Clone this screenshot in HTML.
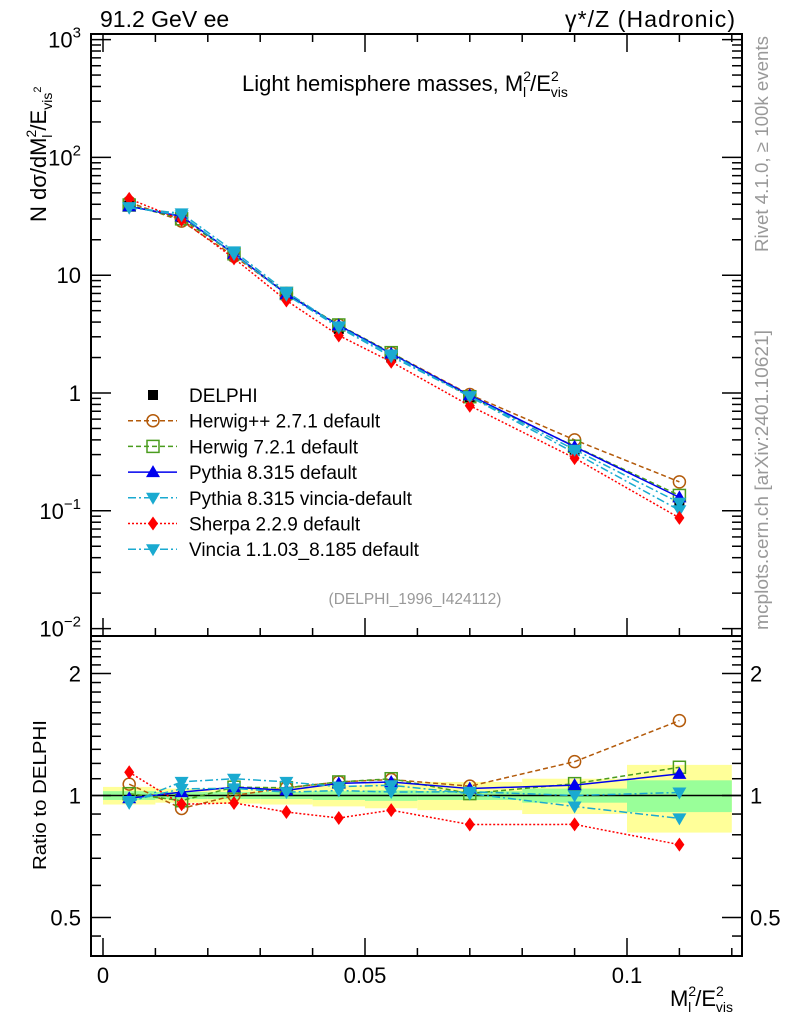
<!DOCTYPE html>
<html><head><meta charset="utf-8"><style>
html,body{margin:0;padding:0;background:#fff;}
svg{display:block;font-family:"Liberation Sans",Arial,sans-serif;}
</style></head><body>
<svg id="chart" width="786" height="1024" xmlns="http://www.w3.org/2000/svg">
<g id="bands"></g>
<g id="grid"></g>
<g id="series"></g>
<g id="legend"></g>
<text x="100" y="27" font-size="23">91.2 GeV ee</text>
<text x="565" y="27" font-size="23" textLength="170" lengthAdjust="spacing">γ*/Z (Hadronic)</text>
<text x="242" y="91" font-size="22">Light hemisphere masses, M<tspan font-size="14" dy="-10">2</tspan><tspan font-size="14" dx="-8" dy="16">l</tspan><tspan dx="4" dy="-6">/E</tspan><tspan font-size="14" dy="-10">2</tspan><tspan font-size="14" dx="-8" dy="16">vis</tspan></text>
<text x="415" y="604" font-size="15.5" fill="#999" text-anchor="middle">(DELPHI_1996_I424112)</text>
<text transform="translate(768,252) rotate(-90)" font-size="18.5" fill="#999" textLength="216" lengthAdjust="spacingAndGlyphs">Rivet 4.1.0, ≥ 100k events</text>
<text transform="translate(768,630) rotate(-90)" font-size="18.5" fill="#999" textLength="300" lengthAdjust="spacingAndGlyphs">mcplots.cern.ch [arXiv:2401.10621]</text>
<text transform="translate(46,222) rotate(-90)" font-size="22">N  dσ/dM<tspan font-size="14" dy="-10">2</tspan><tspan font-size="14" dx="-8" dy="16">l</tspan><tspan dx="4" dy="-6">/E</tspan><tspan font-size="14" dy="6">vis</tspan><tspan font-size="11" dy="-11">2</tspan></text>
<text transform="translate(46,870) rotate(-90)" font-size="18" textLength="150" lengthAdjust="spacingAndGlyphs">Ratio to DELPHI</text>
<text x="670" y="1006" font-size="22">M<tspan font-size="14" dy="-10">2</tspan><tspan font-size="14" dx="-8" dy="16">l</tspan><tspan dx="4" dy="-6">/E</tspan><tspan font-size="14" dy="-10">2</tspan><tspan font-size="14" dx="-8" dy="16">vis</tspan></text>
</svg>
<script>
const binLo = [0,0.01,0.02,0.03,0.04,0.05,0.06,0.08,0.10];
const binHi = [0.01,0.02,0.03,0.04,0.05,0.06,0.08,0.10,0.12];
const xCenters = [0.005,0.015,0.025,0.035,0.045,0.055,0.07,0.09,0.11];
const delphi = [39,31,14.5,6.7,3.5,2.0,0.92,0.33,0.115];
const yellowErr = [0.05,0.04,0.045,0.05,0.06,0.07,0.08,0.1,0.19];
const greenErr = [0.025,0.02,0.02,0.02,0.025,0.03,0.025,0.04,0.09];
const herwigpp = [41.6,28.8,14.5,7.0,3.78,2.19,0.97,0.40,0.176];
const herwig7 = [39.4,30.1,15.2,7.0,3.78,2.2,0.93,0.353,0.135];
const pythia = [38.4,31.6,15.2,6.9,3.75,2.16,0.957,0.35,0.13];
const pythiaVincia = [37.4,33.5,15.95,7.24,3.68,2.12,0.93,0.31,0.101];
const sherpa = [44.5,29.5,13.9,6.1,3.08,1.84,0.78,0.28,0.087];
const vincia = [37.8,32.2,15.1,6.83,3.6,2.04,0.94,0.33,0.117];
const mainTicks = [1000,100,10,1,0.1,0.01];
const mainTickLabels = ['10^3','10^2','10','1','10^-1','10^-2'];
const ratioTicks = [2,1,0.5];
const ratioTickLabels = ['2','1','0.5'];
const xTicks = [0,0.05,0.1];
const xTickLabels = ['0','0.05','0.1'];

const NS='http://www.w3.org/2000/svg';
const L=91,R=742,T=34,MB=636,RB=956;
const X=v=>103+v*5240;
const Y=v=>393-117.8*Math.log10(v);
const YR=r=>795.5-122*Math.log2(r);
function mk(tag,attrs,parent){const e=document.createElementNS(NS,tag);for(const k in attrs)e.setAttribute(k,attrs[k]);parent.appendChild(e);return e;}
const grid=document.getElementById('grid'),bands=document.getElementById('bands'),ser=document.getElementById('series'),leg=document.getElementById('legend');

for(let i=0;i<binLo.length;i++){
  let r=mk('rect',{x:X(binLo[i]),y:YR(1+yellowErr[i]),width:X(binHi[i])-X(binLo[i]),height:YR(1-yellowErr[i])-YR(1+yellowErr[i]),fill:'#ffff99'},bands);
  
  
  let g=mk('rect',{x:X(binLo[i]),y:YR(1+greenErr[i]),width:X(binHi[i])-X(binLo[i]),height:YR(1-greenErr[i])-YR(1+greenErr[i]),fill:'#99ff99'},bands);
  
  
}
const f1=mk('rect',{x:L,y:T,width:R-L,height:MB-T,fill:'none',stroke:'#000','stroke-width':2},grid);


const f2=mk('rect',{x:L,y:MB,width:R-L,height:RB-MB,fill:'none',stroke:'#000','stroke-width':2},grid);


const one=mk('line',{x1:L,x2:R,y1:YR(1),y2:YR(1),stroke:'#000','stroke-width':1.5},grid);


function line(x1,y1,x2,y2){mk('line',{x1,y1,x2,y2,stroke:'#000','stroke-width':1.5},grid);}
for(let d=-2;d<=3;d++){
  const y=Y(Math.pow(10,d));
  line(L,y,L+20,y);line(R,y,R-20,y);
  if(d<3)for(let m=2;m<=9;m++){const ym=Y(m*Math.pow(10,d));line(L,ym,L+10,ym);line(R,ym,R-10,ym);}
}
mainTicks.forEach((v,i)=>{
  const s=mainTickLabels[i];const t=mk('text',{x:81,y:Y(v)+8,'font-size':22,'text-anchor':'end'},grid);
  
  
  if(s.includes('^')){const [b,e]=s.split('^');t.textContent=b;const ts=mk('tspan',{'font-size':15,dy:-10},t);ts.textContent=e.replace('-','−');}
  else t.textContent=s;
});
[0.5,1,2].forEach(v=>{const y=YR(v);line(L,y,L+20,y);line(R,y,R-20,y);});
[0.6,0.7,0.8,0.9,1.1,1.2,1.3,1.4,1.5,1.6,1.7,1.8,1.9,2.1,2.2,2.3,2.4,0.45,0.4].forEach(v=>{const y=YR(v);if(y>MB&&y<RB){line(L,y,L+10,y);line(R,y,R-10,y);}});
ratioTicks.forEach((v,i)=>{
  const a=mk('text',{x:81,y:YR(v)+8,'font-size':22,'text-anchor':'end'},grid);a.textContent=ratioTickLabels[i];
  
  
  const b=mk('text',{x:750,y:YR(v)+8,'font-size':22},grid);b.textContent=ratioTickLabels[i];
  
  
});
for(let k=0;k<=12;k++){
  const x=X(k*0.01);const big=k%5===0;const len=big?18:8;
  line(x,RB,x,RB-len);line(x,MB,x,MB-len);line(x,T,x,T+len);
}
xTicks.forEach((v,i)=>{const t=mk('text',{x:X(v),y:983,'font-size':22,'text-anchor':'middle'},grid);t.textContent=xTickLabels[i];
  
  });

function marker(g,type,x,y,c){
  const s=7;
  if(type==='square')mk('rect',{x:x-5,y:y-5,width:10,height:10,fill:c},g);
  else if(type==='osquare')mk('rect',{x:x-6,y:y-6,width:12,height:12,fill:'none',stroke:c,'stroke-width':1.5},g);
  else if(type==='ocircle')mk('circle',{cx:x,cy:y,r:6,fill:'none',stroke:c,'stroke-width':1.5},g);
  else if(type==='tri')mk('polygon',{points:`${x},${y-s} ${x-s},${y+5} ${x+s},${y+5}`,fill:c},g);
  else if(type==='dtri')mk('polygon',{points:`${x},${y+s} ${x-s},${y-5} ${x+s},${y-5}`,fill:c},g);
  else if(type==='diamond')mk('polygon',{points:`${x},${y-7} ${x-5},${y} ${x},${y+7} ${x+5},${y}`,fill:c},g);
}
const series=[
 {name:'Herwig++ 2.7.1 default',v:herwigpp,c:'#b35a0a',dash:'5,3',m:'ocircle',id:'herwigpp'},
 {name:'Herwig 7.2.1 default',v:herwig7,c:'#4a9c1e',dash:'5,3',m:'osquare',id:'herwig7'},
 {name:'Pythia 8.315 default',v:pythia,c:'#0000ee',dash:'',m:'tri',id:'pythia'},
 {name:'Pythia 8.315 vincia-default',v:pythiaVincia,c:'#1aaad0',dash:'8,3,2,3',m:'dtri',id:'pythia-vincia'},
 {name:'Sherpa 2.2.9 default',v:sherpa,c:'#ff0000',dash:'2,2',m:'diamond',id:'sherpa'},
 {name:'Vincia 1.1.03_8.185 default',v:vincia,c:'#1aaad0',dash:'8,3,2,3',m:'dtri',id:'vincia'}
];
const dg=mk('g',{},ser);


delphi.forEach((v,i)=>marker(dg,'square',X(xCenters[i]),Y(v),'#000'));
series.forEach(s=>{
  const g=mk('g',{},ser);
  
  
  const pm=s.v.map((v,i)=>X(xCenters[i])+','+Y(v)).join(' ');
  const pr=s.v.map((v,i)=>X(xCenters[i])+','+YR(v/delphi[i])).join(' ');
  const a={fill:'none',stroke:s.c,'stroke-width':1.5};if(s.dash)a['stroke-dasharray']=s.dash;
  mk('polyline',Object.assign({points:pm},a),g);
  mk('polyline',Object.assign({points:pr},a),g);
  s.v.forEach((v,i)=>{marker(g,s.m,X(xCenters[i]),Y(v),s.c);marker(g,s.m,X(xCenters[i]),YR(v/delphi[i]),s.c);});
});
const rows=[{name:'DELPHI',m:'square',c:'#000'}].concat(series);
rows.forEach((s,i)=>{
  const y=395+i*25.7;
  const g=mk('g',{},leg);
  
  
  if(s.v){const a={x1:128,x2:177,y1:y,y2:y,stroke:s.c,'stroke-width':1.5};if(s.dash)a['stroke-dasharray']=s.dash;mk('line',a,g);}
  marker(g,s.m,153,y,s.c);
  const t=mk('text',{x:189,y:y+7,'font-size':19},g);t.textContent=s.name;
});
</script>
</body></html>
